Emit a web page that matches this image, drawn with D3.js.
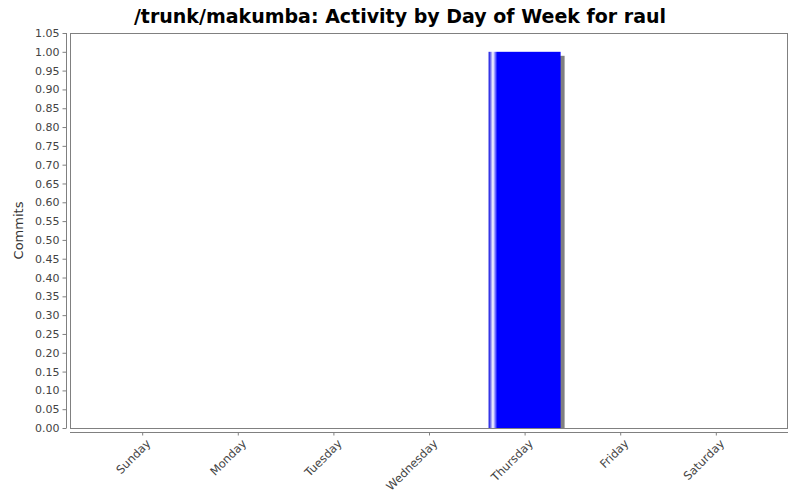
<!DOCTYPE html>
<html>
<head>
<meta charset="utf-8">
<script src="https://cdn.jsdelivr.net/npm/d3@7"></script>
<style>
  body { margin: 0; background: #fff; }
  svg text { font-family: "DejaVu Sans", sans-serif; }
</style>
</head>
<body>
<svg id="chart" width="800" height="500"></svg>
<script>
// chart data
const days = ["Sunday", "Monday", "Tuesday", "Wednesday", "Thursday", "Friday", "Saturday"];
const commits = [0, 0, 0, 0, 1, 0, 0];
const yTicks = d3.range(0, 22).map(i => i * 0.05);

const svg = d3.select("#chart");
const width = 800, height = 500;
const plot = { left: 70, top: 33, right: 788, bottom: 428 };

svg.append("rect").attr("width", width).attr("height", height).attr("fill", "#fff");

// title
svg.append("text")
    .attr("x", width / 2)
    .attr("y", 23)
    .attr("text-anchor", "middle")
    .style("font-size", "19px")
    .style("font-weight", "bold")
    .attr("fill", "#000")
    .text("/trunk/makumba: Activity by Day of Week for raul");

const x = d3.scalePoint()
    .domain(days)
    .range([plot.left, plot.right])
    .padding(0.755);

const y = d3.scaleLinear()
    .domain([0, 1.05])
    .range([plot.bottom, plot.top]);

// gradient for the bar
const defs = svg.append("defs");
const grad = defs.append("linearGradient")
    .attr("id", "barGrad")
    .attr("x1", "0%").attr("x2", "100%")
    .attr("y1", "0%").attr("y2", "0%");
grad.append("stop").attr("offset", "0%").attr("stop-color", "#0000e0");
grad.append("stop").attr("offset", "6%").attr("stop-color", "#ffffff");
grad.append("stop").attr("offset", "12%").attr("stop-color", "#0000ff");
grad.append("stop").attr("offset", "100%").attr("stop-color", "#0000ff");

// plot outline
svg.append("rect")
    .attr("x", plot.left + 0.5)
    .attr("y", plot.top + 0.5)
    .attr("width", plot.right - plot.left - 1)
    .attr("height", plot.bottom - plot.top)
    .attr("fill", "none")
    .attr("stroke", "#808080");

// bars with shadow
const barW = 72;
const bars = svg.append("g");
const data = days.map((d, i) => ({ day: d, value: commits[i] })).filter(d => d.value > 0);

bars.selectAll("rect.shadow")
    .data(data)
    .join("rect")
    .attr("class", "shadow")
    .attr("x", d => x(d.day) - barW / 2 + 4)
    .attr("y", d => y(d.value) + 4)
    .attr("width", barW)
    .attr("height", d => y(0) - y(d.value) - 4)
    .attr("fill", "#808080");

bars.selectAll("rect.bar")
    .data(data)
    .join("rect")
    .attr("class", "bar")
    .attr("x", d => x(d.day) - barW / 2)
    .attr("y", d => y(d.value))
    .attr("width", barW)
    .attr("height", d => y(0) - y(d.value))
    .attr("fill", "url(#barGrad)");

// y axis
const yAxis = svg.append("g")
    .attr("transform", `translate(66.5,0)`)
    .call(d3.axisLeft(y).tickValues(yTicks).tickFormat(d3.format(".2f")).tickSize(4).tickPadding(3));
yAxis.select(".domain").attr("stroke", "#808080").attr("d", `M0,${plot.top}V${plot.bottom}`);
yAxis.selectAll(".tick line").attr("stroke", "#808080");
yAxis.selectAll(".tick text")
    .style("font-size", "11px")
    .attr("fill", "#444");

// x axis
const xAxis = svg.append("g")
    .attr("transform", `translate(0,432.5)`)
    .call(d3.axisBottom(x).tickSize(3).tickSizeOuter(0));
xAxis.select(".domain").attr("stroke", "#808080").attr("d", `M${plot.left},0H${plot.right}`);
xAxis.selectAll(".tick line").attr("stroke", "#808080");
xAxis.selectAll(".tick text")
    .style("font-size", "11.5px")
    .attr("fill", "#444")
    .attr("text-anchor", "end")
    .attr("transform", "translate(3,6) rotate(-45)")
    .attr("x", 0)
    .attr("y", 0)
    .attr("dy", "0.7em");

// y label
svg.append("text")
    .attr("transform", `translate(23,${(plot.top + plot.bottom) / 2}) rotate(-90)`)
    .attr("text-anchor", "middle")
    .style("font-size", "13px")
    .attr("fill", "#333")
    .text("Commits");
</script>
</body>
</html>
